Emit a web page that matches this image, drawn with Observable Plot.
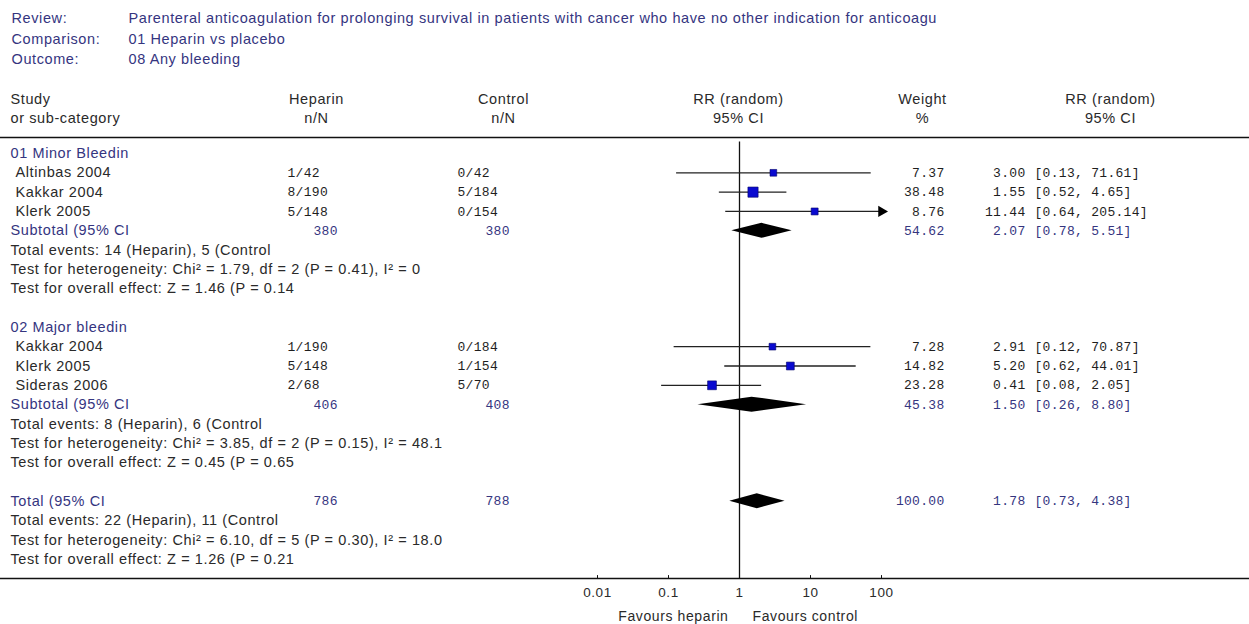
<!DOCTYPE html>
<html><head><meta charset="utf-8">
<script src="https://cdn.jsdelivr.net/npm/d3@7"></script>
<script src="https://cdn.jsdelivr.net/npm/@observablehq/plot@0.6"></script>
<style>body{margin:0;background:#fff} svg{display:block}</style>
</head><body><div id="chart"></div>
<script>
// ---------- data ----------
const reviewLabels = ["Review:", "Comparison:", "Outcome:"];
const reviewValues = [
  "Parenteral anticoagulation for prolonging survival in patients with cancer who have no other indication for anticoagu",
  "01 Heparin vs placebo",
  "08 Any bleeding"
];
const headerLine1 = ["Study", "Heparin", "Control", "RR (random)", "Weight", "RR (random)"];
const headerLine2 = ["or sub-category", "n/N", "n/N", "95% CI", "%", "95% CI"];

const groupNames = ["01 Minor Bleedin", "02 Major bleedin"];
const studyNames = ["Altinbas 2004", "Kakkar 2004", "Klerk 2005", "Kakkar 2004", "Klerk 2005", "Sideras 2006"];
const studyGroup = [0, 0, 0, 1, 1, 1];
const heparinNN = ["1/42", "8/190", "5/148", "1/190", "5/148", "2/68"];
const controlNN = ["0/42", "5/184", "0/154", "0/184", "1/154", "5/70"];
const studyRR = [3.00, 1.55, 11.44, 2.91, 5.20, 0.41];
const studyLow = [0.13, 0.52, 0.64, 0.12, 0.62, 0.08];
const studyHigh = [71.61, 4.65, 205.14, 70.87, 44.01, 2.05];
const studyWeight = [7.37, 38.48, 8.76, 7.28, 14.82, 23.28];

const pooledNames = ["Subtotal (95% CI", "Subtotal (95% CI", "Total (95% CI"];
const pooledHeparinN = ["380", "406", "786"];
const pooledControlN = ["380", "408", "788"];
const pooledRR = [2.07, 1.50, 1.78];
const pooledLow = [0.78, 0.26, 0.73];
const pooledHigh = [5.51, 8.80, 4.38];
const pooledWeight = [54.62, 45.38, 100.00];
const totalEvents = [
  "Total events: 14 (Heparin), 5 (Control",
  "Total events: 8 (Heparin), 6 (Control",
  "Total events: 22 (Heparin), 11 (Control"
];
const heterogeneity = [
  "Test for heterogeneity: Chi² = 1.79, df = 2 (P = 0.41), I² = 0",
  "Test for heterogeneity: Chi² = 3.85, df = 2 (P = 0.15), I² = 48.1",
  "Test for heterogeneity: Chi² = 6.10, df = 5 (P = 0.30), I² = 18.0"
];
const overallEffect = [
  "Test for overall effect: Z = 1.46 (P = 0.14",
  "Test for overall effect: Z = 0.45 (P = 0.65",
  "Test for overall effect: Z = 1.26 (P = 0.21"
];
const axisTicks = [0.01, 0.1, 1, 10, 100];
const axisTickLabels = ["0.01", "0.1", "1", "10", "100"];
const favourLabels = ["Favours heparin", "Favours control"];

// ---------- layout (row indices) ----------
const groupRow = [0, 9];
const pooledRow = [4, 13, 18];
const f2 = d3.format(".2f");

const studies = studyNames.map((name, i) => {
  const g = studyGroup[i];
  const j = studyGroup.slice(0, i).filter(v => v === g).length;
  return {name, row: groupRow[g] + 1 + j, hep: heparinNN[i], ctl: controlNN[i],
    rr: studyRR[i], lo: studyLow[i], hi: studyHigh[i], w: studyWeight[i]};
});
const pooled = pooledNames.map((name, k) => ({name, row: pooledRow[k], hep: pooledHeparinN[k], ctl: pooledControlN[k],
  rr: pooledRR[k], lo: pooledLow[k], hi: pooledHigh[k], w: pooledWeight[k], k}));
const groups = groupNames.map((name, g) => ({name, row: groupRow[g]}));
const stats = pooled.flatMap((p, k) => [
  {text: totalEvents[k], row: p.row + 1},
  {text: heterogeneity[k], row: p.row + 2},
  {text: overallEffect[k], row: p.row + 3}
]);
const headers1 = headerLine1.map((t, i) => ({t, i}));
const headers2 = headerLine2.map((t, i) => ({t, i}));
const reviews = reviewLabels.map((t, i) => ({t, v: reviewValues[i], i}));

// diamond polygons
const halfH = 7.5 / 19.32;
const diamondPts = pooled.flatMap(p => [
  {k: p.k, x: p.lo, y1: p.row, y2: p.row},
  {k: p.k, x: p.rr, y1: p.row - halfH, y2: p.row + halfH},
  {k: p.k, x: p.hi, y1: p.row, y2: p.row}
]);

const SANS = "Liberation Sans, Arial, sans-serif";
const MONO = "Liberation Mono, Courier New, monospace";
const FS = 14.5;
const MS = 13;
const NAVY = "#35357f";
const INK = "#2a2a2a";
const NUM = "#1e1e1e";
const headerX = [10, 316, 503, 738, 922, 1110];
const reviewY = [-6.99, -5.9, -4.87];

const plot = Plot.plot({
  width: 1249, height: 624,
  margin: 0,
  x: {type: "log", domain: [0.01, 100], range: [597, 881], axis: null},
  y: {type: "linear", domain: [0, 22], range: [153, 578], axis: null},
  r: {type: "identity"},
  style: {background: "#fff"},
  marks: [
    // review block
    Plot.text(reviews, {y: d => reviewY[d.i], text: "t", frameAnchor: "left", dx: 11, fill: NAVY, fontFamily: SANS, fontSize: FS}),
    Plot.text(reviews, {y: d => reviewY[d.i], text: "v", frameAnchor: "left", dx: 128, fill: NAVY, fontFamily: SANS, fontSize: FS}),
    // column headers
    ...[0, 1, 2, 3, 4, 5].flatMap(i => [
      Plot.text(headers1.filter(d => d.i === i), {y: -2.8, text: "t", frameAnchor: "left", dx: headerX[i], textAnchor: i === 0 ? "start" : "middle", fill: INK, fontFamily: SANS, fontSize: FS}),
      Plot.text(headers2.filter(d => d.i === i), {y: -1.81, text: "t", frameAnchor: "left", dx: headerX[i], textAnchor: i === 0 ? "start" : "middle", fill: INK, fontFamily: SANS, fontSize: FS})
    ]),
    // horizontal rules
    Plot.ruleY([-0.83], {stroke: "#111", strokeWidth: 1.6}),
    Plot.ruleY([22], {stroke: "#111", strokeWidth: 1.6}),
    // line of no effect
    Plot.ruleX([1], {y1: -0.6, y2: 22, stroke: "#111", strokeWidth: 1.3}),
    // axis ticks and labels
    Plot.ruleX(axisTicks, {y1: 22, y2: 21.85, stroke: "#111"}),
    Plot.text(axisTicks, {x: d => d, y: 22, dy: 14, text: (d, i) => axisTickLabels[i], fill: INK, fontFamily: SANS, fontSize: 13.5}),
    Plot.text([favourLabels[0]], {x: () => 1, y: () => 22, dy: 38, dx: -11, text: d => d, textAnchor: "end", fill: INK, fontFamily: SANS, fontSize: 14}),
    Plot.text([favourLabels[1]], {x: () => 1, y: () => 22, dy: 38, dx: 13, text: d => d, textAnchor: "start", fill: INK, fontFamily: SANS, fontSize: 14}),
    // group labels
    Plot.text(groups, {y: "row", text: "name", frameAnchor: "left", dx: 10, fill: NAVY, fontFamily: SANS, fontSize: FS}),
    // study rows
    Plot.text(studies, {y: "row", text: "name", frameAnchor: "left", dx: 15, fill: INK, fontFamily: SANS, fontSize: FS}),
    Plot.text(studies, {y: "row", text: "hep", frameAnchor: "left", dx: 287, fill: NUM, fontFamily: MONO, fontSize: MS}),
    Plot.text(studies, {y: "row", text: "ctl", frameAnchor: "left", dx: 457, fill: NUM, fontFamily: MONO, fontSize: MS}),
    Plot.text(studies, {y: "row", text: d => f2(d.w), frameAnchor: "left", dx: 944, textAnchor: "end", fill: NUM, fontFamily: MONO, fontSize: MS}),
    Plot.text(studies, {y: "row", text: d => f2(d.rr), frameAnchor: "left", dx: 1025, textAnchor: "end", fill: NUM, fontFamily: MONO, fontSize: MS}),
    Plot.text(studies, {y: "row", text: d => `[${f2(d.lo)}, ${f2(d.hi)}]`, frameAnchor: "left", dx: 1034, fill: NUM, fontFamily: MONO, fontSize: MS}),
    // pooled rows
    Plot.text(pooled, {y: "row", text: "name", frameAnchor: "left", dx: 10, fill: NAVY, fontFamily: SANS, fontSize: FS}),
    Plot.text(pooled, {y: "row", text: "hep", frameAnchor: "left", dx: 313, fill: NAVY, fontFamily: MONO, fontSize: MS}),
    Plot.text(pooled, {y: "row", text: "ctl", frameAnchor: "left", dx: 485, fill: NAVY, fontFamily: MONO, fontSize: MS}),
    Plot.text(pooled, {y: "row", text: d => f2(d.w), frameAnchor: "left", dx: 944, textAnchor: "end", fill: NAVY, fontFamily: MONO, fontSize: MS}),
    Plot.text(pooled, {y: "row", text: d => f2(d.rr), frameAnchor: "left", dx: 1025, textAnchor: "end", fill: NAVY, fontFamily: MONO, fontSize: MS}),
    Plot.text(pooled, {y: "row", text: d => `[${f2(d.lo)}, ${f2(d.hi)}]`, frameAnchor: "left", dx: 1034, fill: NAVY, fontFamily: MONO, fontSize: MS}),
    // stats lines
    Plot.text(stats, {y: "row", text: "text", frameAnchor: "left", dx: 10, fill: INK, fontFamily: SANS, fontSize: FS}),
    // confidence intervals
    Plot.ruleY(studies, {y: "row", x1: "lo", x2: d => Math.min(d.hi, 100), stroke: "#222", strokeWidth: 1.3}),
    Plot.dot(studies.filter(d => d.hi > 100), {x: () => 100, y: "row", symbol: "triangle", rotate: 90, r: 4.2, fill: "#000", stroke: "none"}),
    // study squares
    Plot.dot(studies, {x: "rr", y: "row", symbol: "square", r: d => (4 + Math.sqrt(d.w)) / Math.sqrt(Math.PI), fill: "#0a0ad0", stroke: "#00006a", strokeWidth: 0.6}),
    // pooled diamonds
    Plot.area(diamondPts, {x1: "x", y1: "y1", y2: "y2", z: "k", fill: "#000", curve: "linear"})
  ]
});
// letter spacing to match the original's wider text cells
plot.querySelectorAll("g[font-family^='Liberation Mono']").forEach(g => g.setAttribute("letter-spacing", "0.3"));
plot.querySelectorAll("g[font-family^='Liberation Sans']").forEach(g => g.setAttribute("letter-spacing", "0.6"));
document.getElementById("chart").appendChild(plot);
</script></body></html>
